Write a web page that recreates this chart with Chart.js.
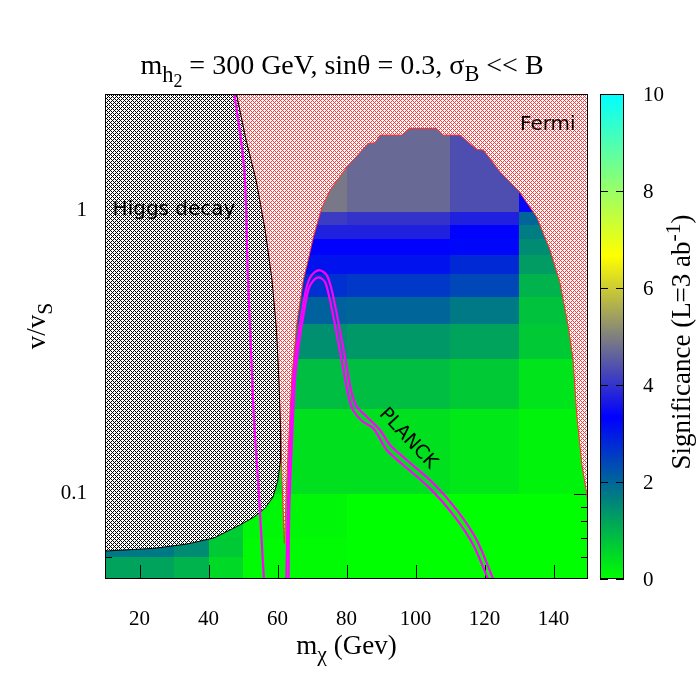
<!DOCTYPE html>
<html>
<head>
<meta charset="utf-8">
<title>Significance map</title>
<script src="https://cdn.jsdelivr.net/npm/chart.js@4.4.1/dist/chart.umd.min.js"></script>
<style>
  html, body { margin: 0; padding: 0; background: #ffffff; }
  #chart { display: block; }
</style>
</head>
<body>
<canvas id="chart" width="700" height="700"></canvas>
<script>
/*global Chart*/
/*global document*/

// cell edges of the scan (m_chi in GeV, v/v_S)
var massEdges = [10, 30, 40, 50, 80, 110, 130, 150];
var ratioEdges = [0.05, 0.06, 0.07, 0.1, 0.2, 0.3, 0.4, 0.5, 0.6, 0.7, 0.8, 0.9, 1.0, 2.61];

// significance per cell, rows from the bottom, null where the cell is fully excluded
var significance = [
    [1.2, 1.0, 0.5, 0.05, 0, 0, 0],
    [1.75, 1.5, 0.7, 0.05, 0, 0, 0],
    [null, null, 0.65, 0.1, 0, 0, 0],
    [null, null, null, 0.4, 0.4, 0.3, 0.15],
    [null, null, null, 0.85, 0.85, 0.7, 0.35],
    [null, null, null, 1.45, 1.35, 1.2, 0.7],
    [null, null, null, 2.05, 2.0, 1.75, 0.8],
    [null, null, null, 2.7, 2.6, 2.4, 1.0],
    [null, null, null, 3.1, 3.1, 2.8, 1.3],
    [null, null, null, 3.35, 3.35, 3.25, 1.5],
    [null, null, null, 3.75, 3.75, 3.35, 1.7],
    [null, null, null, 4.1, 4.0, 3.75, 2.0],
    [null, null, null, 4.9, 4.7, 4.35, 3.4]
];

var massTicks = [20, 40, 60, 80, 100, 120, 140];
var ratioMajorTicks = [0.1, 1];
var ratioMajorLabels = ['0.1', '1'];
var ratioMinorTicks = [0.06, 0.07, 0.08, 0.09, 0.2, 0.3, 0.4, 0.5, 0.6, 0.7, 0.8, 0.9, 2];
var colorbarTicks = [0, 2, 4, 6, 8, 10];

// Higgs decay exclusion boundary
var higgsMass = [5, 47.1, 48.1, 50.9, 53.8, 56.4, 58.4, 59.7, 60.4, 60.9, 60.9, 60.1, 58.7, 56.4, 53.2, 49.1, 41.6, 33.8, 24.2, 10, 5];
var higgsRatio = [3, 3, 2.61, 1.79, 1.29, 0.861, 0.573, 0.381, 0.253, 0.1685, 0.132, 0.112, 0.0976, 0.0892, 0.0829, 0.0777, 0.0699, 0.0665, 0.0642, 0.0628, 0.0625];

// Fermi exclusion boundary
var fermiMass = [40, 47.1, 48.1, 50.9, 53.8, 56.4, 58.4, 59.7, 60.4, 60.9, 61.3, 62.0, 62.7, 63.4, 64.1, 65.6, 67.5, 68.9, 70.4, 72.8,
    75.2, 80.1, 86.3, 88.3, 89.7, 96.0, 98.4, 106.1, 108.1, 112.9, 117.7, 119.7, 124.5, 129.8, 135.1, 139.0, 141.9, 144.3, 145.7, 146.7,
    148.2, 149.6, 150, 155, 155];
var fermiRatio = [3, 3, 2.61, 1.79, 1.29, 0.861, 0.573, 0.381, 0.253, 0.1685, 0.112, 0.0669, 0.112, 0.1685, 0.253, 0.402, 0.573, 0.674, 0.813, 1.03,
    1.19, 1.44, 1.745, 1.754, 1.867, 1.867, 1.972, 1.972, 1.867, 1.867, 1.662, 1.652, 1.384, 1.19, 0.959, 0.731, 0.559, 0.391, 0.298, 0.193,
    0.128, 0.1006, 0.0914, 0.0914, 3];

// PLANCK relic density contours
var planckLeftMass = [47.2, 49.42, 50.58, 51.45, 52.32, 53.19, 54.35, 55.22, 56.1];
var planckLeftRatio = [2.75, 1.793, 1.294, 0.573, 0.3236, 0.1828, 0.1121, 0.0746, 0.049];
var planckOuterMass = [62.55, 62.96, 63.62, 64.58, 65.57, 67.01, 68.46, 69.91, 72.03, 74.26, 75.71, 77.16, 78.61, 80.06, 81.51, 82.96,
    85.86, 89.71, 92.61, 97.45, 105.16, 111.94, 117.74, 122.8];
var planckOuterRatio = [0.049, 0.0878, 0.1471, 0.2533, 0.3323, 0.4364, 0.542, 0.5963, 0.621, 0.5963, 0.5278, 0.4364, 0.3509, 0.2824, 0.2273, 0.2038,
    0.1878, 0.1685, 0.1491, 0.1319, 0.1091, 0.0878, 0.0687, 0.049];
var planckInnerMass = [63.19, 63.42, 64.12, 65.07, 66.09, 67.39, 68.93, 70.29, 72.03, 73.77, 75.07, 76.38, 77.83, 79.28, 80.72, 81.88,
    84.49, 87.77, 91.65, 96.46, 104.2, 110.96, 116.75, 121.3];
var planckInnerRatio = [0.049, 0.0878, 0.1471, 0.2533, 0.3323, 0.42, 0.5278, 0.5679, 0.5854, 0.5633, 0.4943, 0.4132, 0.3342, 0.2683, 0.2187, 0.1984,
    0.1814, 0.1709, 0.1432, 0.1267, 0.1047, 0.0843, 0.066, 0.049];

// colour palette of the significance scale
var paletteStops = [0, 10 / 3, 20 / 3, 10];
var paletteRgb = [[0, 255, 0], [0, 0, 255], [255, 255, 0], [0, 255, 255]];

(function (Chart) {
    "use strict";

    var SERIF = '"Liberation Serif", "Times New Roman", serif';
    var SANS = '"DejaVu Sans", sans-serif';

    var canvas = document.getElementById('chart');
    var ctx = canvas.getContext('2d');

    var rgbAt = function (v) {
        var i = 0, t, a, b, last = paletteStops.length - 1;
        v = Math.max(paletteStops[0], Math.min(paletteStops[last], v));
        while (i < last - 1 && v > paletteStops[i + 1]) {
            i += 1;
        }
        t = (v - paletteStops[i]) / (paletteStops[i + 1] - paletteStops[i]);
        a = paletteRgb[i];
        b = paletteRgb[i + 1];
        return 'rgb(' + Math.round(a[0] + (b[0] - a[0]) * t) + ',' +
            Math.round(a[1] + (b[1] - a[1]) * t) + ',' +
            Math.round(a[2] + (b[2] - a[2]) * t) + ')';
    };

    // small crosshatch tile like the gnuplot fill patterns
    var makeHatch = function (ink, period) {
        var tile = document.createElement('canvas'), tctx, x, y;
        tile.width = period;
        tile.height = period;
        tctx = tile.getContext('2d');
        tctx.fillStyle = '#ffffff';
        tctx.fillRect(0, 0, period, period);
        tctx.fillStyle = ink;
        for (y = 0; y < period; y += 1) {
            for (x = 0; x < period; x += 1) {
                if ((x + y) % period === 0 || (x - y + period) % period === 0) {
                    tctx.fillRect(x, y, 1, 1);
                }
            }
        }
        return ctx.createPattern(tile, 'repeat');
    };

    var toPoints = function (xs, ys) {
        return xs.map(function (x, i) {
            return {x: x, y: ys[i]};
        });
    };

    // draws text made of runs (subscripts, superscripts) starting at x or centred on it
    var drawRuns = function (c, runs, family, size, x, y, align) {
        var widths = [], total = 0, pos;
        runs.forEach(function (run) {
            c.font = (size * run.scale).toFixed(1) + 'px ' + family;
            widths.push(c.measureText(run.text).width);
            total += widths[widths.length - 1];
        });
        pos = align === 'center' ? x - total / 2 : x;
        c.textAlign = 'left';
        c.textBaseline = 'alphabetic';
        runs.forEach(function (run, i) {
            c.font = (size * run.scale).toFixed(1) + 'px ' + family;
            c.fillText(run.text, pos, y + run.shift * size);
            pos += widths[i];
        });
    };

    var mapPlugin = {
        id: 'significanceMap',
        beforeDatasetsDraw: function (chart) {
            var c = chart.ctx, area = chart.chartArea, xs = chart.scales.x, ys = chart.scales.y;

            c.save();
            c.beginPath();
            c.rect(area.left, area.top, area.right - area.left, area.bottom - area.top);
            c.clip();
            significance.forEach(function (row, i) {
                row.forEach(function (value, j) {
                    if (value === null) {
                        return;
                    }
                    var x0 = Math.round(xs.getPixelForValue(massEdges[j])),
                        x1 = Math.round(xs.getPixelForValue(massEdges[j + 1])),
                        y0 = Math.round(ys.getPixelForValue(ratioEdges[i + 1])),
                        y1 = Math.round(ys.getPixelForValue(ratioEdges[i]));
                    c.fillStyle = rgbAt(value);
                    c.fillRect(x0, y0, x1 - x0, y1 - y0);
                });
            });
            c.restore();

            // inward tics, the exclusion regions are painted over them
            c.save();
            c.strokeStyle = '#000000';
            c.lineWidth = 1;
            c.beginPath();
            massTicks.forEach(function (m) {
                var px = Math.round(xs.getPixelForValue(m)) + 0.5;
                c.moveTo(px, area.bottom);
                c.lineTo(px, area.bottom - 14);
                c.moveTo(px, area.top);
                c.lineTo(px, area.top + 14);
            });
            ratioMajorTicks.forEach(function (r) {
                var py = Math.round(ys.getPixelForValue(r)) + 0.5;
                c.moveTo(area.left, py);
                c.lineTo(area.left + 14, py);
                c.moveTo(area.right, py);
                c.lineTo(area.right - 14, py);
            });
            ratioMinorTicks.forEach(function (r) {
                var py = Math.round(ys.getPixelForValue(r)) + 0.5;
                c.moveTo(area.left, py);
                c.lineTo(area.left + 7, py);
                c.moveTo(area.right, py);
                c.lineTo(area.right - 7, py);
            });
            c.stroke();
            c.restore();
        },
        afterDatasetsDraw: function (chart) {
            var c = chart.ctx, area = chart.chartArea, xs = chart.scales.x, ys = chart.scales.y,
                barLeft = area.right + 12, barWidth = 24, barTop = area.top, barBottom = area.bottom,
                cMin = colorbarTicks[0], cMax = colorbarTicks[colorbarTicks.length - 1],
                grad, barY;

            barY = function (v) {
                return barBottom - (v - cMin) / (cMax - cMin) * (barBottom - barTop);
            };

            c.save();
            c.strokeStyle = '#000000';
            c.lineWidth = 1;
            c.strokeRect(area.left + 0.5, area.top + 0.5, area.right - area.left - 1, area.bottom - area.top - 1);

            // colour box
            grad = c.createLinearGradient(0, barBottom, 0, barTop);
            paletteStops.forEach(function (s) {
                grad.addColorStop((s - cMin) / (cMax - cMin), rgbAt(s));
            });
            c.fillStyle = grad;
            c.fillRect(barLeft, barTop, barWidth, barBottom - barTop);
            c.strokeRect(barLeft + 0.5, barTop + 0.5, barWidth - 1, barBottom - barTop - 1);
            c.beginPath();
            colorbarTicks.forEach(function (v) {
                var py = Math.round(barY(v)) + 0.5;
                c.moveTo(barLeft, py);
                c.lineTo(barLeft + 8, py);
                c.moveTo(barLeft + barWidth, py);
                c.lineTo(barLeft + barWidth - 8, py);
            });
            c.stroke();

            // tick labels
            c.fillStyle = '#000000';
            c.font = '21px ' + SERIF;
            c.textAlign = 'center';
            c.textBaseline = 'middle';
            massTicks.forEach(function (m) {
                c.fillText(String(m), xs.getPixelForValue(m), area.bottom + 40);
            });
            c.textAlign = 'right';
            ratioMajorTicks.forEach(function (r, i) {
                c.fillText(ratioMajorLabels[i], area.left - 18, ys.getPixelForValue(r) - 1);
            });
            c.textAlign = 'left';
            colorbarTicks.forEach(function (v) {
                c.fillText(String(v), barLeft + barWidth + 19, barY(v) + 1);
            });

            // titles
            drawRuns(c, [
                {text: 'm', scale: 1, shift: 0},
                {text: 'h', scale: 0.8, shift: 0.3},
                {text: '2', scale: 0.64, shift: 0.45},
                {text: ' = 300 GeV, sin\u03b8 = 0.3, \u03c3', scale: 1, shift: 0},
                {text: 'B', scale: 0.8, shift: 0.25},
                {text: ' << B', scale: 1, shift: 0}
            ], SERIF, 28, 342, 74, 'center');

            drawRuns(c, [
                {text: 'm', scale: 1, shift: 0},
                {text: '\u03c7', scale: 0.8, shift: 0.25},
                {text: ' (Gev)', scale: 1, shift: 0}
            ], SERIF, 27, (area.left + area.right) / 2, 654, 'center');

            c.save();
            c.translate(45, 326);
            c.rotate(-Math.PI / 2);
            drawRuns(c, [
                {text: 'v/v', scale: 1, shift: 0},
                {text: 'S', scale: 0.8, shift: 0.25}
            ], SERIF, 27, 0, 0, 'center');
            c.restore();

            c.save();
            c.translate(690, 342);
            c.rotate(-Math.PI / 2);
            drawRuns(c, [
                {text: 'Significance (L=3 ab', scale: 1, shift: 0},
                {text: '-1', scale: 0.8, shift: -0.38},
                {text: ')', scale: 1, shift: 0}
            ], SERIF, 27, 0, 0, 'center');
            c.restore();

            // region labels
            c.font = '20px ' + SANS;
            c.textAlign = 'left';
            c.textBaseline = 'alphabetic';
            c.fillText('Higgs decay', xs.getPixelForValue(12.2), ys.getPixelForValue(0.973));
            c.fillText('Fermi', xs.getPixelForValue(130.3), ys.getPixelForValue(1.944));
            c.save();
            c.translate(xs.getPixelForValue(97.8), ys.getPixelForValue(0.157));
            c.rotate(47 * Math.PI / 180);
            c.font = '19px ' + SANS;
            c.textAlign = 'center';
            c.textBaseline = 'middle';
            c.fillText('PLANCK', 0, 0);
            c.restore();
            c.restore();
        }
    };

    var fermiHatch = makeHatch('#ff3a3a', 4);
    var higgsHatch = makeHatch('#000000', 4);

    var contour = function (label, xs, ys, order) {
        return {
            label: label,
            data: toPoints(xs, ys),
            showLine: true,
            fill: false,
            borderColor: '#ff00ff',
            borderWidth: 2.2,
            pointRadius: 0,
            tension: 0.3,
            order: order
        };
    };

    new Chart(canvas, {
        type: 'scatter',
        data: {
            datasets: [
                {
                    label: 'Fermi',
                    data: toPoints(fermiMass, fermiRatio),
                    showLine: true,
                    fill: 'shape',
                    backgroundColor: fermiHatch,
                    borderColor: '#ff3030',
                    borderWidth: 1,
                    pointRadius: 0,
                    tension: 0,
                    order: 5
                },
                {
                    label: 'Higgs decay',
                    data: toPoints(higgsMass, higgsRatio),
                    showLine: true,
                    fill: 'shape',
                    backgroundColor: higgsHatch,
                    borderColor: '#000000',
                    borderWidth: 1,
                    pointRadius: 0,
                    tension: 0,
                    order: 4
                },
                contour('PLANCK', planckLeftMass, planckLeftRatio, 2),
                contour('PLANCK upper', planckOuterMass, planckOuterRatio, 1),
                contour('PLANCK lower', planckInnerMass, planckInnerRatio, 0)
            ]
        },
        options: {
            responsive: false,
            animation: false,
            devicePixelRatio: 1,
            events: [],
            layout: {padding: {left: 105, right: 112, top: 94, bottom: 121}},
            scales: {
                x: {type: 'linear', min: 10, max: 150, display: false},
                y: {type: 'logarithmic', min: 0.05, max: 2.61, display: false}
            },
            plugins: {
                legend: {display: false},
                tooltip: {enabled: false}
            }
        },
        plugins: [mapPlugin]
    });
}(Chart));
</script>
</body>
</html>
